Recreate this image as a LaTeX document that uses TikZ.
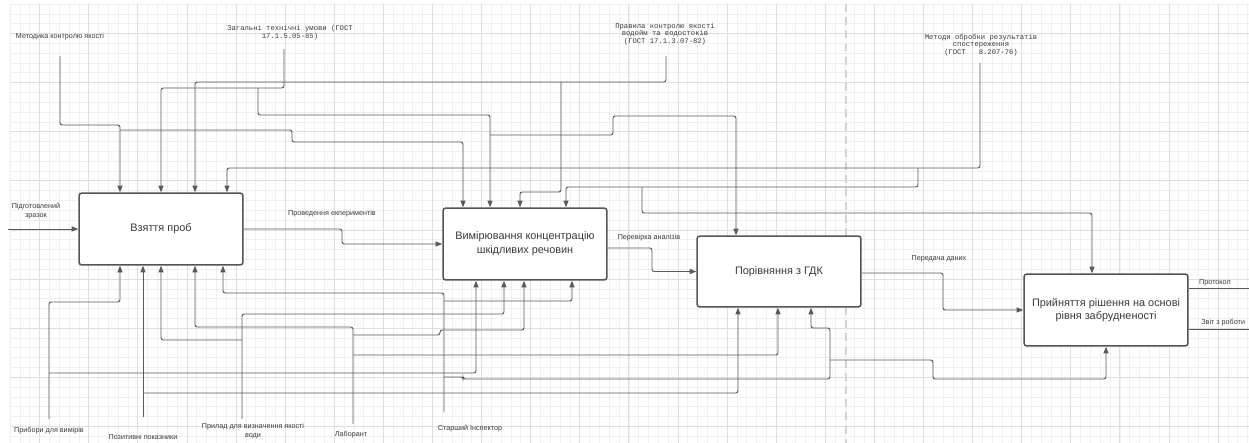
\documentclass[tikz,border=0pt]{standalone}
\usepackage{fontspec}
\setmainfont{Liberation Sans}
\newfontfamily\gostfont{Liberation Mono}
\usetikzlibrary{arrows.meta}
\definecolor{lineg}{HTML}{5A5A5A}
\definecolor{boxg}{HTML}{555555}
\definecolor{txtg}{HTML}{3A3A3A}
\definecolor{gridmin}{HTML}{EFEFEF}
\definecolor{gridmaj}{HTML}{DEDEDE}
\definecolor{sepg}{HTML}{D2D2D2}
\tikzset{
  proc/.style={draw=boxg, line width=0.85pt, rounded corners=1.6pt, fill=white,
    minimum width=3.28cm, minimum height=1.44cm, align=center, text=txtg,
    font=\fontsize{6.2}{7.8}\selectfont},
  link/.style={draw=lineg, line width=0.55pt, rounded corners=1.3pt},
  flow/.style={link, -{Triangle[length=3.8pt,width=2.9pt]}},
  lbl/.style={font=\fontsize{4.1}{5.2}\selectfont, text=txtg, inner sep=0pt, align=center},
  gost/.style={font=\gostfont\fontsize{4.1}{4.4}\selectfont, text=txtg, inner sep=0pt, align=center},
  gridline/.style={draw=gridmin, line width=0.3pt},
  gridbold/.style={draw=gridmaj, line width=0.4pt}
}
\newcommand{\gridbg}{%
  \foreach \i in {0,...,126}{\draw[gridline] ({10.1+9.82*\i},4) -- ({10.1+9.82*\i},443);}
  \foreach \j in {0,...,44}{\draw[gridline] (10,{4+9.82*\j}) -- (1249,{4+9.82*\j});}
  \foreach \i in {0,...,24}{\draw[gridbold] ({39.6+49.1*\i},4) -- ({39.6+49.1*\i},443);}
  \foreach \j in {0,...,8}{\draw[gridbold] (10,{33.5+49.1*\j}) -- (1249,{33.5+49.1*\j});}}

\begin{document}
\begin{tikzpicture}[x=0.02cm,y=-0.02cm]
  \useasboundingbox (0,0) rectangle (1249,443);
  \fill[white] (0,0) rectangle (1249,443);
  \gridbg
  \draw[sepg, line width=1.2pt, dash pattern=on 4.5pt off 3pt] (846,4) -- (846,443);

  \node[proc] (b1) at (161,229) {Взяття проб};
  \node[proc] (b2) at (525,244) {Вимірювання концентрацію\\шкідливих речовин};
  \node[proc, minimum height=1.42cm] (b3) at (779,271.5) {Порівняння з ГДК};
  \node[proc] (b4) at (1106,310) {Прийняття рішення на основі\\рівня забрудненості};

  \node[lbl] (metod) at (60,37) {Методика контролю якості};
  \node[gost] (zag) at (290,33) {Загальні технічні умови (ГОСТ\\17.1.5.05-85)};
  \node[gost] (prav) at (665,34) {Правила контролю якості\\водойм та водостоків\\(ГОСТ 17.1.3.07-82)};
  \node[gost] (metobr) at (981,45) {Методи обробки результатів\\спостереження\\(ГОСТ~~~8.207-76)};

  \node[lbl] (prib) at (49,431) {Прибори для вимірів};
  \node[lbl] (poz) at (143,437) {Позитивні показники};
  \node[lbl] (pril) at (253,431) {Прилад для визначення якості\\води};
  \node[lbl] (lab) at (351,435) {Лаборант};
  \node[lbl] (star) at (470,429) {Старший Інспектор};

  \node[lbl] (zraz) at (36,211) {Підготовлений\\зразок};
  \node[lbl] (prov) at (332,214) {Проведення екпериментів};
  \node[lbl] (perev) at (649,238) {Перевірка аналізів};
  \node[lbl] (pered) at (939,259) {Передача даних};
  \node[lbl] (prot) at (1215,283) {Протокол};
  \node[lbl, anchor=west] (zvit) at (1201,323) {Звіт з роботи};

  \coordinate (sA) at (60,56);
  \coordinate (sB) at (284,49);
  \coordinate (sC) at (666,56);
  \coordinate (sD) at (980,63);
  \coordinate (sP) at (49,419);
  \coordinate (sZ) at (143,417);
  \coordinate (sR) at (242,419);
  \coordinate (sL) at (353,424);
  \coordinate (sS) at (444,412);
  \coordinate (sIn) at (8,229);
  \coordinate (oP) at (1249,288);
  \coordinate (oZ) at (1249,329);

  \draw[flow] (sA) |- (120,125) -- (120,0 |- b1.north);
  \draw[flow] (120,130) -| (292,142) -| (463,0 |- b2.north);
  \draw[flow] (sB) |- (161,88) -- (161,0 |- b1.north);
  \draw[flow] (258,88) |- (490,115) -- (490,0 |- b2.north);
  \draw[flow] (490,135) -| (613,116) -| (736,0 |- b3.north);
  \draw[flow] (sC) |- (195,82) -- (195,0 |- b1.north);
  \draw[flow] (561,82) |- (520,192) -- (520,0 |- b2.north);
  \draw[flow] (sD) |- (227,168) -- (227,0 |- b1.north);
  \draw[flow] (918,168) |- (566,187) -- (566,0 |- b2.north);
  \draw[flow] (642,187) |- (1092,213) -- (1092,0 |- b4.north);

  \draw[flow] (sP) |- (120,302) -- (120,0 |- b1.south);
  \draw[flow] (49,373) -| (476,0 |- b2.south);
  \draw[flow] (sZ) -- (143,0 |- b1.south);
  \draw[flow] (143,393) -| (738,0 |- b3.south);
  \draw[flow] (sR) |- (504,314) -- (504,0 |- b2.south);
  \draw[flow] (242,340) -| (161,0 |- b1.south);
  \draw[flow] (sL) |- (195,327) -- (195,0 |- b1.south);
  \draw[flow] (353,335) -| (440,330) -| (524,0 |- b2.south);
  \draw[flow] (353,355) -| (778,0 |- b3.south);
  \draw[flow] (sS) |- (223,293) -- (223,0 |- b1.south);
  \draw[flow] (444,301) -| (572,0 |- b2.south);
  \draw[flow] (444,377) -| (463,379) -| (830,328) -| (811,0 |- b3.south);
  \draw[flow] (830,360) -| (933,379) -| (1106,0 |- b4.south);

  \draw[flow] (sIn) -- (b1.west);
  \draw[flow] (b1.east) -- (342,229) |- (b2.west);
  \draw[flow] ([yshift=-0.08cm]b2.east) -- (652,248) |- (b3.west);
  \draw[flow] ([yshift=-0.03cm]b3.east) -- (943,273) |- (b4.west);
  \draw[link] (oP -| b4.east) -- (oP);
  \draw[link] (oZ -| b4.east) -- (oZ);
\end{tikzpicture}
\end{document}
